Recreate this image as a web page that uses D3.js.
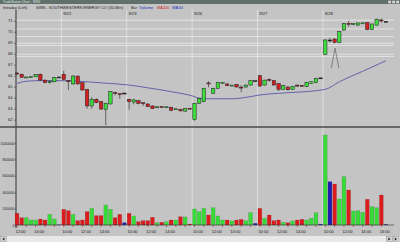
<!DOCTYPE html>
<html>
<head>
<meta charset="utf-8">
<script src="https://cdn.jsdelivr.net/npm/d3@7"></script>
<style>
  body { margin: 0; background: #c4c4c4; overflow: hidden; }
  svg { display: block; font-family: "Liberation Sans", Arial, sans-serif; }
</style>
</head>
<body>
<div id="chart"></div>
<script>
// Data (9/21 afternoon .. 9/28)
var days = ["9/22", "9/23", "9/26", "9/27", "9/28"];
var dayStarts = [10, 24, 38, 52, 66];

var opens = [66.2, 66.13, 65.83, 65.84, 65.9, 66.13, 65.6, 65.38, 65.45, 65.84,
  66.13, 65.5, 65.25, 65.97, 65.36, 64.76, 63.25, 63.85, 63.64, 62.94, 63.43, 64.42, 64.32, 64.38,
  63.85, 63.6, 63.73, 63.5, 63.43, 63.25, 63.1, 63.15, 63.1, 63.13, 62.92, 62.95, 62.78, 63.0,
  62.0, 63.5, 63.64, 65.3, 64.4, 64.85, 65.33, 65.25, 65.08, 65.2, 64.92, 64.97, 65.15, 65.5,
  66.0, 65.15, 65.62, 65.55, 65.3, 64.76, 64.97, 64.76, 65.1, 65.08, 65.0, 65.3, 65.36, 65.76,
  67.95, 69.2, 69.33, 69.0, 70.15, 70.72, 70.68, 70.6, 70.74, 70.82, 70.2, 70.6, 71.02, 70.9];
var highs = [66.3, 66.2, 65.88, 65.9, 66.15, 66.2, 65.65, 65.6, 65.9, 65.86,
  66.45, 65.6, 66.05, 66.0, 65.4, 64.8, 64.05, 63.95, 63.7, 63.55, 64.6, 64.55, 64.35, 64.4,
  63.9, 63.9, 63.8, 63.55, 63.48, 63.3, 63.18, 63.2, 63.2, 63.18, 63.0, 63.0, 63.05, 63.02,
  63.55, 64.0, 64.9, 65.5, 64.9, 65.45, 65.42, 65.3, 65.15, 65.25, 65.15, 65.2, 65.6, 65.52,
  66.05, 65.65, 65.75, 65.6, 65.35, 65.15, 65.05, 65.08, 65.2, 65.12, 65.45, 65.5, 65.8, 65.78,
  69.3, 69.45, 69.4, 70.05, 70.8, 71.0, 70.78, 70.85, 70.8, 70.88, 70.75, 71.2, 71.2, 70.92];
var lows = [66.05, 65.8, 65.78, 65.8, 65.88, 65.55, 65.3, 65.28, 65.4, 65.82,
  65.6, 64.7, 65.2, 65.2, 64.65, 63.0, 63.0, 63.5, 62.9, 61.5, 63.4, 64.2, 63.9, 64.36,
  62.9, 63.4, 63.4, 63.25, 63.15, 62.97, 63.05, 63.08, 63.05, 62.78, 62.88, 62.75, 62.72, 62.96,
  61.9, 63.45, 63.6, 64.95, 64.35, 64.8, 65.28, 65.05, 65.05, 64.95, 64.5, 64.92, 65.1, 65.48,
  65.0, 65.1, 65.45, 65.1, 64.6, 64.7, 64.65, 64.72, 64.98, 64.98, 64.95, 65.25, 65.3, 65.74,
  67.9, 69.0, 68.95, 68.95, 70.1, 70.45, 70.6, 70.55, 70.7, 70.15, 70.15, 70.55, 70.82, 70.88];
var closes = [66.12, 65.86, 65.84, 65.86, 66.1, 65.6, 65.36, 65.42, 65.82, 65.84,
  65.67, 65.42, 65.97, 65.25, 64.7, 63.25, 63.85, 63.55, 62.97, 63.49, 64.55, 64.38, 64.28, 64.38,
  63.64, 63.8, 63.49, 63.47, 63.18, 63.0, 63.13, 63.12, 63.13, 62.85, 62.95, 62.8, 63.0, 62.98,
  63.49, 63.94, 64.85, 65.28, 64.85, 65.4, 65.36, 65.1, 65.1, 64.97, 64.9, 65.15, 65.55, 65.5,
  65.06, 65.6, 65.58, 65.15, 64.76, 65.1, 64.72, 65.03, 65.08, 65.05, 65.4, 65.45, 65.76, 65.76,
  69.25, 69.2, 69.03, 70.0, 70.76, 70.68, 70.72, 70.8, 70.76, 70.2, 70.7, 71.13, 70.98, 70.9];
var volumes = [143000, 89000, 89000, 61000, 61000, 73000, 61000, 130000, 73000, 3000,
  191000, 175000, 130000, 53000, 61000, 163000, 203000, 114000, 114000, 244000, 191000, 89000, 130000, 28000,
  143000, 110000, 40000, 53000, 53000, 94000, 28000, 33000, 40000, 61000, 61000, 101000, 98000, 12000,
  195000, 163000, 203000, 122000, 211000, 110000, 61000, 61000, 49000, 61000, 69000, 53000, 150000, 20000,
  203000, 82000, 122000, 53000, 61000, 33000, 28000, 49000, 61000, 69000, 61000, 82000, 150000, 12000,
  1098000, 528000, 500000, 317000, 589000, 427000, 171000, 175000, 155000, 313000, 223000, 211000, 366000, 8000];

// MA34 read at a few bars
var maIdx = [0, 2, 5, 9, 13, 18, 24, 28, 33, 38, 39, 42, 46, 50, 52, 56, 60, 66, 69, 74, 79];
var maVal = [65.3, 65.5, 65.55, 65.55, 65.5, 65.35, 65.15, 64.9, 64.55, 64.1, 63.95, 63.9, 63.9, 64.1,
  64.25, 64.4, 64.5, 64.76, 65.45, 66.4, 67.36];

// drawn horizontal levels
var levels = [71.05, 70.25, 69.55, 68.95, 68.75, 67.95, 67.75];

var priceTicks = [62, 63, 64, 65, 66, 67, 68, 69, 70, 71];
var volumeTicks = [0, 200000, 400000, 600000, 800000, 1000000];
var timeIdx = [0, 4, 10, 14, 18, 24, 28, 32, 38, 42, 46, 52, 56, 60, 66, 70, 74, 78];
var timeLabels = ["12:00", "14:00", "10:00", "12:00", "14:00", "10:00", "12:00", "14:00",
  "10:00", "12:00", "14:00", "10:00", "12:00", "14:00", "10:00", "12:00", "14:00", "16:00"];
var hourTicks = [0, 2, 4, 6, 8, 10, 12, 14, 16, 18, 20, 22, 24, 26, 28, 30, 32, 34, 36,
  38, 40, 42, 44, 46, 48, 50, 52, 54, 56, 58, 60, 62, 64, 66, 68, 70, 72, 74, 76, 78];

var render = function() {
  var width = 400, height = 242;
  var plotLeft = 16, plotRight = 394;
  var priceTop = 10, sepY = 127, volBottom = 228;

  var svg = d3.select("#chart").append("svg")
    .attr("width", width)
    .attr("height", height);

  svg.append("rect").attr("width", width).attr("height", height).attr("fill", "#c4c4c4");

  var xScale = d3.scaleLinear().domain([0, 79]).range([17, 386]);
  var yScale = d3.scaleLinear().domain([62, 70]).range([119.7, 31.7]);
  var vScale = d3.scaleLinear().domain([0, 1000000]).range([225, 143]);

  // title strip + info line
  svg.append("rect").attr("width", width).attr("height", 4).attr("fill", "#5f716a");
  svg.append("text").attr("x", 3).attr("y", 3.2).attr("font-size", 3.2).attr("fill", "#dfe6e2")
    .text("TradeStation Chart - SWN");
  [0, 1, 2].forEach(function(i) {
    svg.append("rect").attr("x", 388 + i * 4).attr("y", 0.5).attr("width", 3.2).attr("height", 3)
      .attr("fill", "#d8d8d8").attr("stroke", "#555").attr("stroke-width", 0.3);
  });

  var info = [
    { x: 3, t: "Intraday (Left)", c: "#202020", w: 24 },
    { x: 36, t: "SWN - SOUTHWESTERN ENERGY CO (30-Min)", c: "#202020", w: 87 },
    { x: 131, t: "Bar", c: "#202020", w: 6 },
    { x: 139, t: "Volume", c: "#2030c0", w: 14 },
    { x: 157, t: "MA200", c: "#d02020", w: 12 },
    { x: 172, t: "MA34", c: "#2030c0", w: 11 }
  ];
  info.forEach(function(d) {
    svg.append("text").attr("x", d.x).attr("y", 9.3).attr("font-size", 4.4).attr("fill", d.c)
      .attr("textLength", d.w).attr("lengthAdjust", "spacingAndGlyphs").text(d.t);
  });

  // day separators
  dayStarts.forEach(function(s, i) {
    var xx = (xScale(s - 1) + xScale(s)) / 2;
    svg.append("line").attr("x1", xx).attr("x2", xx).attr("y1", priceTop).attr("y2", volBottom)
      .attr("stroke", "#e6e6e6").attr("stroke-width", 0.8);
    svg.append("text").attr("x", xScale(s) + 3.5).attr("y", 14.5).attr("font-size", 4.2)
      .attr("text-anchor", "middle").attr("fill", "#202020").text(days[i]);
  });

  // horizontal levels
  svg.append("g").selectAll("line").data(levels).enter().append("line")
    .attr("x1", plotLeft).attr("x2", plotRight)
    .attr("y1", d => yScale(d)).attr("y2", d => yScale(d))
    .attr("stroke", "#ececec").attr("stroke-width", 0.8);

  // axes
  var priceAxis = d3.axisLeft(yScale).tickValues(priceTicks).tickSize(2).tickPadding(1.5)
    .tickFormat(d3.format("d"));
  var pa = svg.append("g").attr("transform", "translate(" + plotLeft + ",0)").call(priceAxis);
  var volAxis = d3.axisLeft(vScale).tickValues(volumeTicks).tickSize(1).tickPadding(0.5)
    .tickFormat(d3.format("d"));
  var va = svg.append("g").attr("transform", "translate(" + plotLeft + ",0)").call(volAxis);
  [pa, va].forEach(function(g) {
    g.select(".domain").remove();
    g.selectAll("text").attr("font-size", 4).attr("fill", "#202020").attr("font-family", "Liberation Sans, Arial, sans-serif");
    g.selectAll("line").attr("stroke", "#303030").attr("stroke-width", 0.5);
  });
  va.selectAll("text").attr("font-size", 3.6);

  svg.append("line").attr("x1", plotLeft).attr("x2", plotLeft).attr("y1", priceTop).attr("y2", volBottom)
    .attr("stroke", "#303030").attr("stroke-width", 1);
  svg.append("line").attr("x1", 0).attr("x2", width).attr("y1", sepY).attr("y2", sepY)
    .attr("stroke", "#4a4a4a").attr("stroke-width", 1.5);

  // volume bars
  var volColor = function(i) {
    if (closes[i] > opens[i]) return "#38dc38";
    if (closes[i] < opens[i]) return "#dc1c1c";
    return "#1c1cb4";
  };
  svg.append("g").selectAll("rect").data(volumes).enter().append("rect")
    .attr("x", (d, i) => xScale(i) - 1.9)
    .attr("width", 3.8)
    .attr("y", d => vScale(d))
    .attr("height", d => vScale(0) - vScale(d))
    .attr("fill", (d, i) => volColor(i))
    .attr("stroke", "rgba(0,0,0,0.25)")
    .attr("stroke-width", 0.4);

  // time axis at zero volume
  svg.append("line").attr("x1", plotLeft).attr("x2", plotRight).attr("y1", vScale(0)).attr("y2", vScale(0))
    .attr("stroke", "#303030").attr("stroke-width", 0.6);
  svg.append("g").selectAll("line").data(hourTicks).enter().append("line")
    .attr("x1", d => xScale(d)).attr("x2", d => xScale(d))
    .attr("y1", vScale(0)).attr("y2", vScale(0) + 2)
    .attr("stroke", "#a02020").attr("stroke-width", 0.6);
  svg.append("g").selectAll("text").data(timeIdx).enter().append("text")
    .attr("x", d => xScale(d) + 3.5).attr("y", 233.2)
    .attr("font-size", 4).attr("text-anchor", "middle").attr("fill", "#202020")
    .text((d, i) => timeLabels[i]);

  // MA34
  var maLine = d3.line().x(d => xScale(d[0])).y(d => yScale(d[1])).curve(d3.curveMonotoneX);
  svg.append("path").datum(maIdx.map((d, i) => [d, maVal[i]]))
    .attr("d", maLine).attr("fill", "none").attr("stroke", "#5858a8").attr("stroke-width", 0.9);

  // candles
  var candles = svg.append("g");
  candles.selectAll("line").data(opens).enter().append("line")
    .attr("x1", (d, i) => xScale(i)).attr("x2", (d, i) => xScale(i))
    .attr("y1", (d, i) => yScale(highs[i])).attr("y2", (d, i) => yScale(lows[i]))
    .attr("stroke", "#202020").attr("stroke-width", 0.6);
  candles.selectAll("rect").data(opens).enter().append("rect")
    .attr("x", (d, i) => xScale(i) - 1.7)
    .attr("width", 3.4)
    .attr("y", (d, i) => Math.min(yScale(d), yScale(closes[i])) - (Math.abs(yScale(d) - yScale(closes[i])) < 1 ? 0.5 : 0))
    .attr("height", (d, i) => Math.max(1, Math.abs(yScale(d) - yScale(closes[i]))))
    .attr("fill", (d, i) => closes[i] > d ? "#3cdc3c" : closes[i] < d ? "#d42020" : "#202020")
    .attr("stroke", "#202020")
    .attr("stroke-width", 0.5);

  // hand-drawn caret under the 9/28 bars
  var caret = [[67.3, 66.7], [68.1, 68.5], [68.9, 66.7]];
  svg.append("path")
    .attr("d", d3.line().x(d => xScale(d[0])).y(d => yScale(d[1]))(caret))
    .attr("fill", "none").attr("stroke", "#505050").attr("stroke-width", 0.6);

  // scrollbar
  svg.append("rect").attr("x", 0).attr("y", 236).attr("width", width).attr("height", 6).attr("fill", "#e8e8e8");
  svg.append("rect").attr("x", 0.5).attr("y", 236.5).attr("width", 6).attr("height", 5)
    .attr("fill", "#d4d4d4").attr("stroke", "#808080").attr("stroke-width", 0.4);
  svg.append("path").attr("d", "M2.3,239 L4.5,237.6 L4.5,240.4 Z").attr("fill", "#202020");
  [386.5, 393].forEach(function(bx) {
    svg.append("rect").attr("x", bx).attr("y", 236.5).attr("width", 6).attr("height", 5)
      .attr("fill", "#d4d4d4").attr("stroke", "#808080").attr("stroke-width", 0.4);
    svg.append("path").attr("d", "M" + (bx + 4) + ",239 L" + (bx + 1.8) + ",237.6 L" + (bx + 1.8) + ",240.4 Z")
      .attr("fill", "#202020");
  });
};

window.onload = render;
</script>
</body>
</html>
